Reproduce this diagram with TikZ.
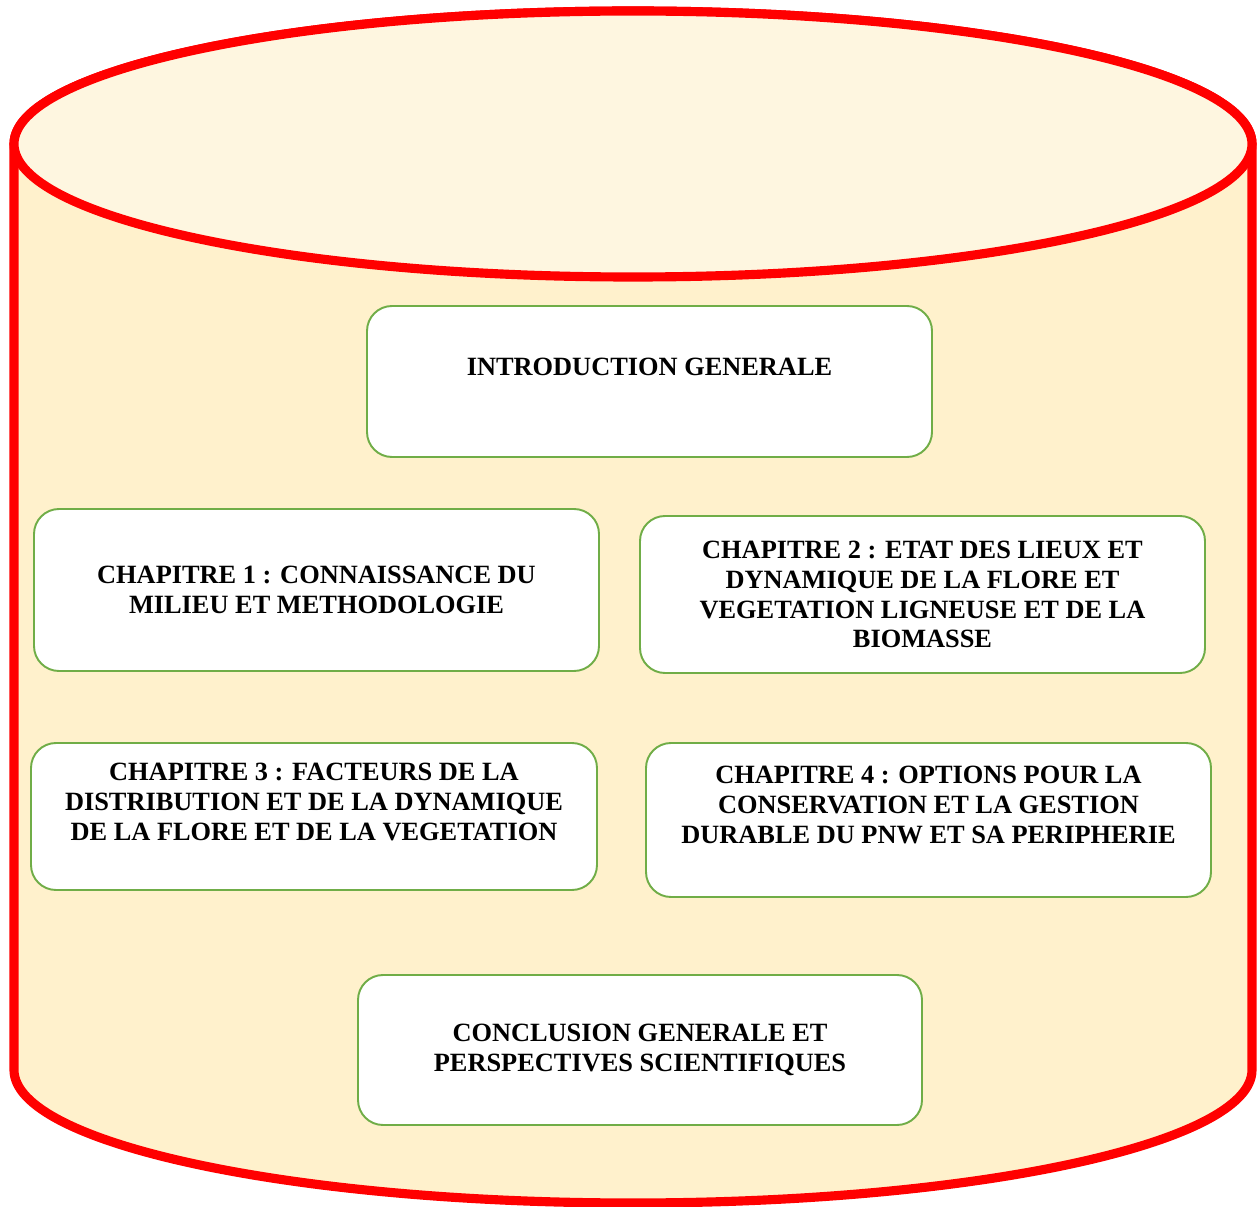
\documentclass[tikz,border=0pt]{standalone}
\usepackage{fontspec}
\setmainfont{Liberation Serif}
\usepackage{tikz}

\definecolor{cylbody}{HTML}{FFF1CC}
\definecolor{cyltop}{HTML}{FEF6E0}
\definecolor{boxgreen}{HTML}{70AD47}

\begin{document}
\begin{tikzpicture}[
  cyl/.style={draw=red, line width=5.2pt, line join=round},
  chapbox/.style={draw=boxgreen, line width=1.1pt, fill=white, rounded corners=0.5cm,
    minimum width=11.3cm, align=center, inner sep=0pt,
    font=\fontsize{15}{17}\selectfont\bfseries}
]
\useasboundingbox (0,0) rectangle (25.16,-24.14);


%cylinder body (sides + bottom)
\draw [cyl, fill=cylbody] (0.28,-2.88)--(0.28,-21.40)
  arc [start angle=180, end angle=360, x radius=12.38, y radius=2.66]
  --(25.04,-2.88)
  arc [start angle=0, end angle=180, x radius=12.38, y radius=2.66]; % body outline

%top of cylinder
\draw [cyl, fill=cyltop] (12.66,-2.88) ellipse (12.38cm and 2.66cm); % lid


%boxes inside the cylinder
\node [chapbox, minimum height=3.02cm] (intro) at (12.99,-7.63) {INTRODUCTION GENERALE\\ \mbox{}};

\node [chapbox, minimum height=3.24cm] (chap1) at (6.33,-11.80) {CHAPITRE 1 : CONNAISSANCE DU\\ MILIEU ET METHODOLOGIE};
\node [chapbox, minimum height=3.14cm] (chap2) at (18.45,-11.89) {CHAPITRE 2 : ETAT DES LIEUX ET\\ DYNAMIQUE DE LA FLORE ET\\ VEGETATION LIGNEUSE ET DE LA\\ BIOMASSE};

\node [chapbox, minimum height=2.94cm, minimum width=11.32cm] (chap3) at (6.28,-16.33) {CHAPITRE 3 : FACTEURS DE LA\\ DISTRIBUTION ET DE LA DYNAMIQUE\\ DE LA FLORE ET DE LA VEGETATION\\ \mbox{}};
\node [chapbox, minimum height=3.08cm] (chap4) at (18.57,-16.40) {CHAPITRE 4 : OPTIONS POUR LA\\ CONSERVATION ET LA GESTION\\ DURABLE DU PNW ET SA PERIPHERIE\\ \mbox{}};

\node [chapbox, minimum height=3.00cm, minimum width=11.28cm] (concl) at (12.80,-21.00) {CONCLUSION GENERALE ET\\ PERSPECTIVES SCIENTIFIQUES};


\end{tikzpicture}
\end{document}
